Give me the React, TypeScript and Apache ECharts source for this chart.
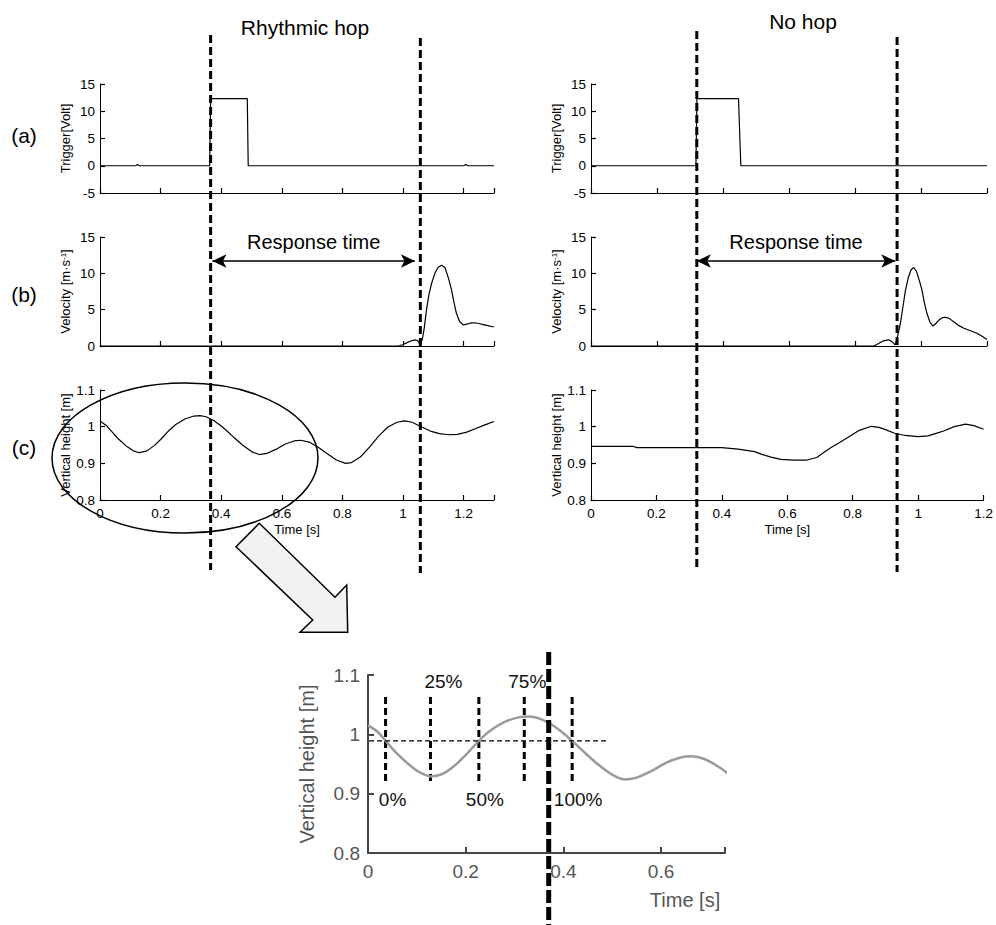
import React, { useEffect, useRef } from "react";
import * as echarts from "echarts";

const FONT = "'Liberation Sans', Arial, Helvetica, sans-serif";

// ---------- data ----------
const trigLeft: number[][] = [
  [0, 0], [0.118, 0], [0.124, 0.25], [0.13, 0], [0.362, 0], [0.365, 12.3],
  [0.486, 12.3], [0.489, 0], [1.2, 0], [1.207, 0.25], [1.214, 0], [1.3, 0],
];
const trigRight: number[][] = [
  [0, 0], [0.318, 0], [0.321, 12.3], [0.447, 12.3], [0.454, 0], [1.2, 0],
];
const velLeft: number[][] = [
  [0, 0], [0.985, 0], [1.0, 0.2], [1.015, 0.5], [1.03, 0.75], [1.04, 0.85],
  [1.048, 0.75], [1.054, 0.4], [1.058, 0.3], [1.064, 1.0], [1.07, 2.5],
  [1.077, 4.9], [1.085, 7], [1.094, 8.6], [1.105, 10], [1.115, 10.8],
  [1.127, 11.1], [1.138, 10.8], [1.15, 9.3], [1.16, 7.7], [1.168, 6],
  [1.176, 4.5], [1.186, 3.4], [1.198, 2.9], [1.21, 3.0], [1.222, 3.15],
  [1.236, 3.2], [1.25, 3.1], [1.265, 2.95], [1.28, 2.8], [1.295, 2.65], [1.3, 2.65],
];
const velRight: number[][] = [
  [0, 0], [0.857, 0], [0.87, 0.3], [0.885, 0.7], [0.902, 0.85], [0.912, 0.6],
  [0.922, 0.15], [0.93, 1.5], [0.9375, 3.1], [0.945, 5.3], [0.953, 7.7],
  [0.962, 9.5], [0.97, 10.5], [0.978, 10.8], [0.986, 10.3], [0.995, 9],
  [1.003, 7.7], [1.01, 6], [1.018, 4.5], [1.027, 3.3], [1.036, 2.75],
  [1.045, 3.1], [1.055, 3.6], [1.065, 3.9], [1.074, 3.95], [1.085, 3.8],
  [1.1, 3.3], [1.115, 2.8], [1.13, 2.45], [1.15, 2.1], [1.17, 1.75],
  [1.185, 1.35], [1.2, 0.9],
];
const heightLeft: number[][] = [
  [0, 1.015], [0.02, 1.004], [0.036, 0.989], [0.06, 0.967], [0.09, 0.945],
  [0.11, 0.934], [0.13, 0.929], [0.155, 0.934], [0.18, 0.949], [0.2, 0.965],
  [0.227, 0.989], [0.25, 1.006], [0.28, 1.021], [0.31, 1.029], [0.33, 1.03],
  [0.35, 1.027], [0.375, 1.017], [0.4, 1.002], [0.418, 0.989], [0.44, 0.972],
  [0.47, 0.95], [0.5, 0.932], [0.525, 0.924], [0.55, 0.927], [0.58, 0.938],
  [0.61, 0.952], [0.64, 0.961], [0.662, 0.963], [0.69, 0.958], [0.72, 0.944],
  [0.75, 0.926], [0.78, 0.909], [0.81, 0.9], [0.83, 0.902], [0.86, 0.918],
  [0.89, 0.945], [0.92, 0.975], [0.95, 0.999], [0.98, 1.012], [1.005, 1.016],
  [1.03, 1.012], [1.06, 1.0], [1.09, 0.988], [1.12, 0.981], [1.15, 0.978],
  [1.18, 0.979], [1.21, 0.985], [1.24, 0.995], [1.27, 1.005], [1.3, 1.014],
];
const heightRight: number[][] = [
  [0, 0.946], [0.13, 0.946], [0.14, 0.943], [0.4, 0.943], [0.45, 0.939],
  [0.5, 0.932], [0.52, 0.925], [0.55, 0.917], [0.58, 0.911], [0.62, 0.909],
  [0.66, 0.909], [0.69, 0.916], [0.72, 0.935], [0.735, 0.944], [0.76, 0.957],
  [0.786, 0.971], [0.82, 0.99], [0.857, 1.001], [0.88, 0.998], [0.9, 0.992],
  [0.928, 0.982], [0.96, 0.976], [1.0, 0.973], [1.03, 0.975], [1.06, 0.983],
  [1.08, 0.989], [1.11, 1.0], [1.145, 1.007], [1.17, 1.003], [1.2, 0.993],
];

const onsetLeft = 0.365;
const movementLeft = 1.057;
const onsetRight = 0.3206;
const movementRight = 0.9275;
const onsetZoom = 0.37;

const arrowLeft = [0.371, 1.039];
const arrowRight = [0.3206, 0.922];
const arrowLevel = 11.7;

const meanHeight = 0.989;
const meanSpan = [-0.26, 0.49];
const phaseT = [0.036, 0.128, 0.227, 0.32, 0.418];
const phaseLabels = ["0%", "25%", "50%", "75%", "100%"];
const phaseTop = 1.063;
const phaseBottom = 0.918;

// ---------- component ----------
export default function App() {
  const ref = useRef<HTMLDivElement>(null);

  useEffect(() => {
    const chart = echarts.init(ref.current!, null, { renderer: "svg" });

    const grids = [
      { left: 100, top: 84, width: 394, height: 109 },
      { left: 100, top: 237, width: 394, height: 109 },
      { left: 100, top: 390, width: 394, height: 110 },
      { left: 591, top: 84, width: 396, height: 109 },
      { left: 591, top: 237, width: 396, height: 109 },
      { left: 591, top: 390, width: 396, height: 110 },
      { left: 368, top: 675, width: 357, height: 178 },
    ];

    const mainLine = { show: true, onZero: false, lineStyle: { color: "#000", width: 1 } };
    const mainTick = { show: true, inside: true, length: 5, lineStyle: { color: "#000", width: 1.2 } };

    const fmtX = (max: number) => (v: number) =>
      v > max - 0.001 && Math.abs(max - Math.round(max * 5) / 5) > 0.001 ? "" : String(+v.toFixed(1));

    const xAx = (gi: number, max: number, labels: boolean, name?: string) => ({
      type: "value",
      gridIndex: gi,
      min: 0,
      max,
      interval: 0.2,
      axisLine: mainLine,
      axisTick: mainTick,
      splitLine: { show: false },
      axisLabel: {
        show: labels,
        color: "#000",
        fontSize: 13.5,
        fontFamily: FONT,
        margin: 6,
        formatter: fmtX(max),
      },
      name: name || "",
      nameLocation: "middle",
      nameGap: 23,
      nameTextStyle: { color: "#000", fontSize: 13, fontFamily: FONT },
    });

    const yAx = (gi: number, min: number, max: number, interval: number, name: string) => ({
      type: "value",
      gridIndex: gi,
      min,
      max,
      interval,
      axisLine: mainLine,
      axisTick: mainTick,
      splitLine: { show: false },
      axisLabel: { color: "#000", fontSize: 13.5, fontFamily: FONT, margin: 5 },
      name,
      nameLocation: "middle",
      nameGap: 28,
      nameTextStyle: {
        color: "#000",
        fontSize: 13,
        fontFamily: FONT,
        rich: { sup: { fontSize: 8, verticalAlign: "top", fontFamily: FONT, color: "#000" } },
      },
    });

    const velName = "Velocity [m·s{sup|-1}]";

    const zoomLine = { show: true, onZero: false, lineStyle: { color: "#444", width: 2 } };
    const zoomTick = { show: true, inside: true, length: 6, lineStyle: { color: "#444", width: 2 } };

    const xAxes: any[] = [
      xAx(0, 1.3, false),
      xAx(1, 1.3, false),
      xAx(2, 1.3, true, "Time [s]"),
      xAx(3, 1.2, false),
      xAx(4, 1.2, false),
      xAx(5, 1.2, true, "Time [s]"),
      {
        type: "value",
        gridIndex: 6,
        min: 0,
        max: 0.731,
        interval: 0.2,
        axisLine: zoomLine,
        axisTick: zoomTick,
        splitLine: { show: false },
        axisLabel: {
          color: "#555",
          fontSize: 19,
          fontFamily: FONT,
          margin: 9,
          formatter: fmtX(0.731),
        },
      },
    ];

    const yAxes: any[] = [
      yAx(0, -5, 15, 5, "Trigger[Volt]"),
      yAx(1, 0, 15, 5, velName),
      yAx(2, 0.8, 1.1, 0.1, "Vertical height [m]"),
      yAx(3, -5, 15, 5, "Trigger[Volt]"),
      yAx(4, 0, 15, 5, velName),
      yAx(5, 0.8, 1.1, 0.1, "Vertical height [m]"),
      {
        type: "value",
        gridIndex: 6,
        min: 0.8,
        max: 1.1,
        interval: 0.1,
        axisLine: zoomLine,
        axisTick: zoomTick,
        splitLine: { show: false },
        axisLabel: { color: "#555", fontSize: 19, fontFamily: FONT, margin: 8 },
        name: "Vertical height [m]",
        nameLocation: "middle",
        nameGap: 51,
        nameTextStyle: { color: "#555", fontSize: 20, fontFamily: FONT },
      },
    ];

    const lineSeries = (idx: number, data: number[][], extra: any = {}) => ({
      type: "line",
      xAxisIndex: idx,
      yAxisIndex: idx,
      data,
      showSymbol: false,
      symbol: "none",
      smooth: false,
      lineStyle: { color: "#000", width: 1.2 },
      silent: true,
      ...extra,
    });

    const arrowMark = (span: number[]) => ({
      silent: true,
      symbol: ["arrow", "arrow"],
      symbolSize: [10, 14],
      lineStyle: { color: "#000", width: 1.5, type: "solid" },
      label: { show: false },
      emphasis: { disabled: true },
      data: [[{ coord: [span[0], arrowLevel] }, { coord: [span[1], arrowLevel] }]],
    });

    const series: any[] = [
      lineSeries(0, trigLeft),
      lineSeries(1, velLeft, { markLine: arrowMark(arrowLeft) }),
      lineSeries(2, heightLeft),
      lineSeries(3, trigRight),
      lineSeries(4, velRight, { markLine: arrowMark(arrowRight) }),
      lineSeries(5, heightRight),
      lineSeries(6, heightLeft, { smooth: 0.3, lineStyle: { color: "#9a9a9a", width: 2.5 } }),
      lineSeries(6, [[meanSpan[0], meanHeight], [meanSpan[1], meanHeight]], {
        clip: false,
        lineStyle: { color: "#000", width: 1.2, type: [5, 3] },
      }),
      {
        type: "custom",
        xAxisIndex: 6,
        yAxisIndex: 6,
        silent: true,
        clip: false,
        data: phaseT.map((t, i) => [t, meanHeight, i]),
        renderItem: (_p: any, api: any) => {
          const t = api.value(0);
          const i = api.value(2);
          const a = api.coord([t, phaseTop]);
          const b = api.coord([t, phaseBottom]);
          const above = i % 2 === 1;
          const offs = [7, 13, 6, 3, 6];
          const lp = api.coord([t, above ? 1.089 : 0.89]);
          return {
            type: "group",
            children: [
              {
                type: "line",
                shape: { x1: a[0], y1: a[1], x2: b[0], y2: b[1] },
                style: { stroke: "#000", lineWidth: 3, lineDash: [7, 4] },
              },
              {
                type: "text",
                style: {
                  text: phaseLabels[i],
                  x: lp[0] + offs[i],
                  y: lp[1],
                  align: "center",
                  verticalAlign: "middle",
                  font: `19px ${FONT}`,
                  fill: "#111",
                },
              },
            ],
          };
        },
      },
    ];

    chart.setOption({
      animation: false,
      backgroundColor: "#fff",
      grid: grids,
      xAxis: xAxes,
      yAxis: yAxes,
      series,
    });

    const px = (g: number, t: number, v: number) =>
      chart.convertToPixel({ gridIndex: g } as any, [t, v]) as number[];

    const dashed = (x: number, y1: number, y2: number, w = 3, dash = [8, 4]) => ({
      type: "line",
      z: 100,
      silent: true,
      shape: { x1: x, y1, x2: x, y2 },
      style: { stroke: "#000", lineWidth: w, lineDash: dash },
    });

    const text = (t: string, x: number, y: number, size: number, color = "#000") => ({
      type: "text",
      z: 100,
      silent: true,
      style: {
        text: t,
        x,
        y,
        font: `${size}px ${FONT}`,
        fill: color,
        align: "center",
        verticalAlign: "middle",
        textAlign: "center",
        textVerticalAlign: "middle",
      },
    });

    const xl1 = px(0, onsetLeft, 0)[0];
    const xl2 = px(0, movementLeft, 0)[0];
    const xr1 = px(3, onsetRight, 0)[0];
    const xr2 = px(3, movementRight, 0)[0];
    const xz = px(6, onsetZoom, 1)[0];
    const midL = px(1, (arrowLeft[0] + arrowLeft[1]) / 2, 0)[0];
    const midR = px(4, (arrowRight[0] + arrowRight[1]) / 2, 0)[0];

    chart.setOption({
      graphic: [
        text("Rhythmic hop", 305, 27, 21),
        text("No hop", 803, 21, 21),
        text("(a)", 24, 135, 21),
        text("(b)", 24, 294, 21),
        text("(c)", 24, 447, 21),
        text("Response time", midL, 242, 20),
        text("Response time", midR, 242, 20),
        text("Time [s]", 685, 900, 20, "#555"),
        dashed(xl1, 35, 570),
        dashed(xl2, 38, 573),
        dashed(xr1, 31, 567),
        dashed(xr2, 37, 572),
        dashed(xz, 652, 925, 5, [13, 4]),
        {
          type: "ellipse",
          z: 100,
          silent: true,
          shape: { cx: 185, cy: 458, rx: 133, ry: 75 },
          style: { fill: "none", stroke: "#000", lineWidth: 1.5 },
        },
        {
          type: "polygon",
          z: 101,
          silent: true,
          shape: {
            points: [
              [259.3, 523.3], [236, 546.7], [312.7, 620], [300, 632.3],
              [347.7, 632.3], [346.7, 585], [335, 597.3],
            ],
          },
          style: { fill: "#f2f2f2", stroke: "#000", lineWidth: 1.5 },
        },
      ],
    });

    return () => chart.dispose();
  }, []);

  return (
    <div
      ref={ref}
      style={{ position: "absolute", left: 0, top: 0, width: 996, height: 925, background: "#fff" }}
    />
  );
}
